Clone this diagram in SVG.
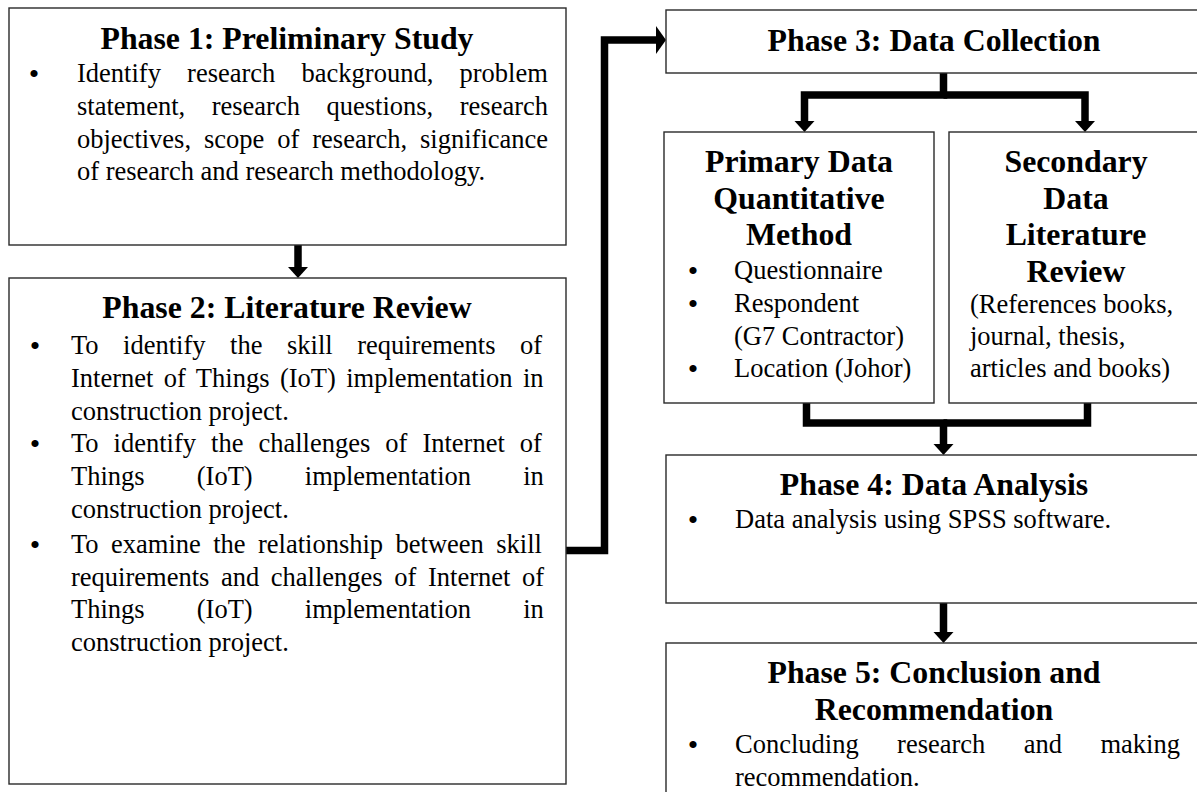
<svg xmlns="http://www.w3.org/2000/svg" width="1197" height="792" viewBox="0 0 1197 792">
<defs>
<style>
.box{fill:#fff;stroke:#2a2a2a;stroke-width:1.4}
.t{font-family:"Liberation Serif","Times New Roman",serif;font-weight:bold;font-size:31.8px;fill:#000;text-anchor:middle}
.b{font-family:"Liberation Serif","Times New Roman",serif;font-size:26.5px;fill:#000}
.bl{font-family:"Liberation Serif","Times New Roman",serif;font-size:30px;fill:#000;text-anchor:middle}
.c{fill:none;stroke:#000;stroke-width:7.5;stroke-linejoin:miter;stroke-linecap:butt}
</style>
<marker id="ah" markerUnits="userSpaceOnUse" markerWidth="12" markerHeight="22" refX="0" refY="10" orient="auto" overflow="visible">
<path d="M0,0 L11,10 L0,20 z" fill="#000"/>
</marker>
<marker id="ahBig" markerUnits="userSpaceOnUse" markerWidth="12" markerHeight="30" refX="0" refY="14" orient="auto" overflow="visible">
<path d="M0,0 L10,14 L0,28 z" fill="#000"/>
</marker>
</defs>
<rect width="1197" height="792" fill="#fff"/>

<g id="connectors">
<path class="c" d="M298,245 V267" marker-end="url(#ah)"/>
<path class="c" d="M566,550.5 H604.5 V40 H656" marker-end="url(#ahBig)"/>
<path class="c" d="M943.5,73 V95 H804.5 V121" marker-end="url(#ah)"/>
<path class="c" d="M943.5,95 H1085 V121" marker-end="url(#ah)"/>
<path class="c" d="M806.5,403 V423 H943.5 V444" marker-end="url(#ah)"/>
<path class="c" d="M1087.5,403 V423 H943.5"/>
<path class="c" d="M943.5,603 V632" marker-end="url(#ah)"/>
</g>

<g id="phase1">
<rect class="box" x="9" y="8" width="557" height="237"/>
<text class="t" x="287" y="49">Phase 1: Preliminary Study</text>
<text class="bl" x="34" y="84">•</text>
<text class="b" x="77" y="82" style="word-spacing:19.6px">Identify research background, problem</text>
<text class="b" x="77" y="114.8" style="word-spacing:19.9px">statement, research questions, research</text>
<text class="b" x="77" y="147.6" style="word-spacing:6.3px">objectives, scope of research, significance</text>
<text class="b" x="77" y="180.4">of research and research methodology.</text>
</g>

<g id="phase2">
<rect class="box" x="9" y="278" width="557" height="506"/>
<text class="t" x="287" y="318">Phase 2: Literature Review</text>
<text class="bl" x="35" y="356">•</text>
<text class="b" x="71" y="354" style="word-spacing:17.9px">To identify the skill requirements of</text>
<text class="b" x="71" y="386.8" style="word-spacing:3.8px">Internet of Things (IoT) implementation in</text>
<text class="b" x="71" y="419.6">construction project.</text>
<text class="bl" x="35" y="454.4">•</text>
<text class="b" x="71" y="452.4" style="word-spacing:8.4px">To identify the challenges of Internet of</text>
<text class="b" x="71" y="485.2" style="word-spacing:45.5px">Things (IoT) implementation in</text>
<text class="b" x="71" y="518">construction project.</text>
<text class="bl" x="35" y="554.8">•</text>
<text class="b" x="71" y="552.8" style="word-spacing:5.8px">To examine the relationship between skill</text>
<text class="b" x="71" y="585.6" style="word-spacing:5px">requirements and challenges of Internet of</text>
<text class="b" x="71" y="618.4" style="word-spacing:45.5px">Things (IoT) implementation in</text>
<text class="b" x="71" y="651.2">construction project.</text>
</g>

<g id="phase3">
<rect class="box" x="666" y="10" width="534" height="63"/>
<text class="t" x="934" y="51">Phase 3: Data Collection</text>
</g>

<g id="primary">
<rect class="box" x="664" y="132" width="270" height="271"/>
<text class="t" x="799" y="172">Primary Data</text>
<text class="t" x="799" y="208.5">Quantitative</text>
<text class="t" x="799" y="245">Method</text>
<text class="bl" x="693" y="281">•</text>
<text class="b" x="734" y="279">Questionnaire</text>
<text class="bl" x="693" y="313.8">•</text>
<text class="b" x="734" y="311.8">Respondent</text>
<text class="b" x="734" y="344.6">(G7 Contractor)</text>
<text class="bl" x="693" y="379.4">•</text>
<text class="b" x="734" y="377.4">Location (Johor)</text>
</g>

<g id="secondary">
<rect class="box" x="949" y="132" width="251" height="271"/>
<text class="t" x="1076" y="172">Secondary</text>
<text class="t" x="1076" y="208.5">Data</text>
<text class="t" x="1076" y="245">Literature</text>
<text class="t" x="1076" y="281.5">Review</text>
<text class="b" x="970" y="312.5">(References books,</text>
<text class="b" x="970" y="345">journal, thesis,</text>
<text class="b" x="970" y="377.4">articles and books)</text>
</g>

<g id="phase4">
<rect class="box" x="666" y="455" width="534" height="148"/>
<text class="t" x="934" y="495">Phase 4: Data Analysis</text>
<text class="bl" x="693" y="530">•</text>
<text class="b" x="735" y="528">Data analysis using SPSS software.</text>
</g>

<g id="phase5">
<rect class="box" x="666" y="643" width="534" height="160"/>
<text class="t" x="934" y="683">Phase 5: Conclusion and</text>
<text class="t" x="934" y="719.5">Recommendation</text>
<text class="bl" x="693" y="755">•</text>
<text class="b" x="735" y="753" style="word-spacing:31.8px">Concluding research and making</text>
<text class="b" x="735" y="786">recommendation.</text>
</g>
</svg>
